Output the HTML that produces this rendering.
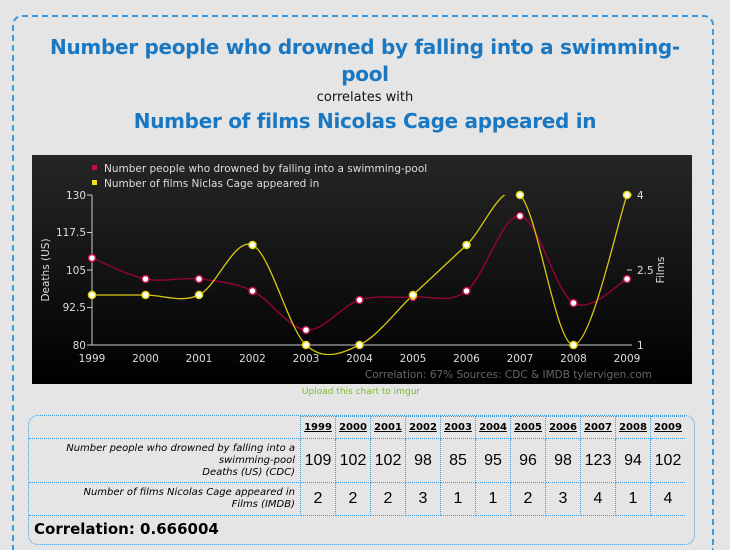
<!DOCTYPE html>
<html style="overflow:hidden;height:550px"><head><meta charset="utf-8"><style>
body{margin:0;width:730px;height:550px;background:#e5e5e5;font-family:"Liberation Sans",sans-serif;overflow:hidden;position:relative}
.box{position:absolute;left:12px;top:15px;width:698px;height:533px;border:2px dashed #3a9ae0;border-bottom:none;border-radius:10px 10px 0 0}
.t1{position:absolute;left:0;width:730px;text-align:center;color:#1a78c2;font-weight:bold;font-family:"DejaVu Sans",sans-serif}
.tbl{position:absolute;left:28px;top:415px;width:665px;height:128px;border:1px dotted #3a9ae0;border-radius:10px}
table{border-collapse:collapse;position:absolute;left:0;top:0}
td{border:1px dotted #3a9ae0;padding:0;text-align:center;font-size:16px}
td.h{font-size:10px;font-weight:bold;text-decoration:underline;height:21px;font-family:"DejaVu Sans",sans-serif}
td.l{text-align:right;font-size:10px;font-style:italic;padding-right:5px;line-height:12px;font-family:"DejaVu Sans",sans-serif}
</style></head><body>
<div class="box"></div>
<div class="t1" style="top:34px;font-size:20px;line-height:27px;letter-spacing:-0.3px">Number people who drowned by falling into a swimming-<br>pool</div>
<div style="position:absolute;top:90px;width:730px;text-align:center;font-size:13px;color:#111;font-family:'DejaVu Sans',sans-serif">correlates with</div>
<div class="t1" style="top:109px;font-size:20px;letter-spacing:-0.3px">Number of films Nicolas Cage appeared in</div>
<svg style="position:absolute;left:0;top:0" width="730" height="550">
<defs><linearGradient id="g" x1="0" y1="0" x2="0" y2="1"><stop offset="0" stop-color="#262626"/><stop offset="1" stop-color="#000"/></linearGradient>
<clipPath id="c"><rect x="60" y="195" width="640" height="160"/></clipPath></defs>
<rect x="32" y="155" width="660" height="229" fill="url(#g)"/>
<g font-size="10.5" fill="#ddd" font-family="DejaVu Sans,sans-serif">
<rect x="92" y="165" width="5" height="5" fill="#c0104a"/><text x="104" y="172">Number people who drowned by falling into a swimming-pool</text>
<rect x="92" y="180" width="5" height="5" fill="#f0e020"/><text x="104" y="187">Number of films Niclas Cage appeared in</text>
<line x1="92" y1="195" x2="92" y2="345" stroke="#ccc"/><line x1="92" y1="345" x2="627" y2="345" stroke="#ccc"/>
<g text-anchor="end"><text x="86" y="199">130</text><text x="86" y="236">117.5</text><text x="86" y="274">105</text><text x="86" y="311">92.5</text><text x="86" y="349">80</text></g>
<path d="M87 195h5M87 232.5h5M87 270h5M87 307.5h5M87 345h5M627 195h5M627 270h5M627 345h5" stroke="#ccc"/>
<text x="637" y="199">4</text><text x="637" y="274">2.5</text><text x="637" y="349">1</text>
<text transform="translate(49,270) rotate(-90)" text-anchor="middle">Deaths (US)</text>
<text transform="translate(664,270) rotate(-90)" text-anchor="middle">Films</text>
<g id="xl" text-anchor="middle"></g>
<text x="652" y="378" text-anchor="end" fill="#666">Correlation: 67%    Sources: CDC &amp; IMDB   tylervigen.com</text>
</g>
<path id="p1" fill="none" stroke="#a0003a" stroke-width="1.3"/>
<path id="p2" fill="none" stroke="#d8c810" stroke-width="1.3" clip-path="url(#c)"/>
<g id="dots"></g>
<text x="361" y="394" text-anchor="middle" font-size="9" fill="#7cbd30" font-family="DejaVu Sans,sans-serif">Upload this chart to imgur</text>
</svg>
<div class="tbl"><table>
<tr><td style="width:271px;border-top:none;border-left:none"></td>
<td class="h" style="width:34px">1999</td><td class="h" style="width:34px">2000</td><td class="h" style="width:34px">2001</td><td class="h" style="width:34px">2002</td><td class="h" style="width:34px">2003</td><td class="h" style="width:34px">2004</td><td class="h" style="width:34px">2005</td><td class="h" style="width:34px">2006</td><td class="h" style="width:34px">2007</td><td class="h" style="width:34px">2008</td><td class="h" style="width:34px;border-right:none">2009</td></tr>
<tr style="height:44px"><td class="l" style="border-left:none">Number people who drowned by falling into a<br>swimming-pool<br><span style="font-weight:normal">Deaths (US) (CDC)</span></td><td>109</td><td>102</td><td>102</td><td>98</td><td>85</td><td>95</td><td>96</td><td>98</td><td>123</td><td>94</td><td style="border-right:none">102</td></tr>
<tr style="height:33px"><td class="l" style="border-left:none">Number of films Nicolas Cage appeared in<br>Films (IMDB)</td><td>2</td><td>2</td><td>2</td><td>3</td><td>1</td><td>1</td><td>2</td><td>3</td><td>4</td><td>1</td><td style="border-right:none">4</td></tr>
</table>
<div style="position:absolute;left:5px;top:104px;font-size:15px;font-weight:bold;font-family:'DejaVu Sans',sans-serif">Correlation: 0.666004</div></div>
<script>
var xs=[],d=[109,102,102,98,85,95,96,98,123,94,102],f=[2,2,2,3,1,1,2,3,4,1,4];
for(var i=0;i<11;i++)xs.push(92+53.5*i);
var xl=document.getElementById('xl'),s='';
xs.forEach(function(x,i){s+='<text x="'+x+'" y="362">'+(1999+i)+'</text>'});xl.innerHTML=s;
function path(ys){var p='M'+xs[0]+' '+ys[0];for(var i=0;i<10;i++){var x0=xs[Math.max(i-1,0)],y0=ys[Math.max(i-1,0)],x3=xs[Math.min(i+2,10)],y3=ys[Math.min(i+2,10)];
p+=' C'+(xs[i]+(xs[i+1]-x0)/6)+' '+(ys[i]+(ys[i+1]-y0)/6)+' '+(xs[i+1]-(x3-xs[i])/6)+' '+(ys[i+1]-(y3-ys[i])/6)+' '+xs[i+1]+' '+ys[i+1];}return p}
var yd=d.map(function(v){return 345-(v-80)*3}),yf=f.map(function(v){return 345-(v-1)*50});
document.getElementById('p1').setAttribute('d',path(yd));
document.getElementById('p2').setAttribute('d',path(yf));
var g='';for(i=0;i<11;i++){g+='<circle cx="'+xs[i]+'" cy="'+yd[i]+'" r="3.5" fill="#fff" stroke="#c0104a" stroke-width="1.5"/>';g+='<circle cx="'+xs[i]+'" cy="'+yf[i]+'" r="3.5" fill="#fff" stroke="#e8d810" stroke-width="1.5"/>';}
document.getElementById('dots').innerHTML=g;
</script>
</body></html>
